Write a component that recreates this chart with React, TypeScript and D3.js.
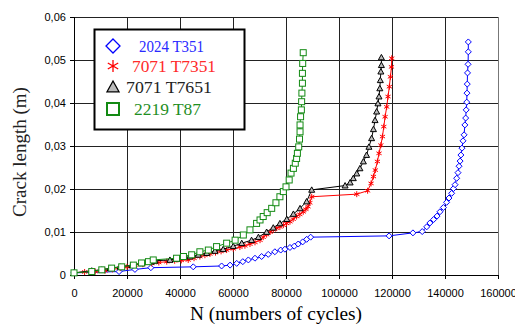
import React, { useEffect, useRef } from 'react';
import * as d3 from 'd3';

// 2024 T351
const blueN = [0, 17000, 23000, 29000, 45000, 55700, 58900, 61400, 63700, 65800, 68300, 70800, 73300, 75800, 78000, 79600, 81500, 83100, 84600, 86300, 87800, 89300, 118900, 127900, 131400, 133100, 134300, 135700, 137000, 138100, 139400, 140600, 141500, 142500, 143200, 143800, 144400, 144900, 145300, 145700, 146000, 146400, 146800, 147200, 147500, 147800, 148000, 148200, 148300, 148400, 148500, 148700, 148800, 148800];
const blueA = [0.0005, 0.0008, 0.0013, 0.0017, 0.0019, 0.0021, 0.0023, 0.0027, 0.0031, 0.0035, 0.0039, 0.0043, 0.0048, 0.0054, 0.0058, 0.0060, 0.0064, 0.0067, 0.0072, 0.0077, 0.0083, 0.0088, 0.0091, 0.0098, 0.0101, 0.0112, 0.0121, 0.0129, 0.0137, 0.0147, 0.0157, 0.0169, 0.0179, 0.0190, 0.0201, 0.0210, 0.0225, 0.0238, 0.0253, 0.0265, 0.0279, 0.0295, 0.0312, 0.0326, 0.0349, 0.0365, 0.0384, 0.0402, 0.0423, 0.0444, 0.0470, 0.0490, 0.0519, 0.0542];

// 7071 T7351
const redN = [0, 4000, 8000, 11700, 14500, 17400, 20000, 23000, 26000, 29300, 32000, 35000, 38000, 40500, 43100, 45300, 47500, 49400, 51300, 53400, 55500, 57600, 60100, 62600, 64500, 66400, 68300, 70200, 71400, 72700, 74000, 75200, 76500, 77700, 79000, 80200, 81500, 82700, 84000, 85200, 86500, 87500, 88300, 89000, 89700, 106700, 110800, 112100, 113000, 113700, 114500, 115100, 115800, 116400, 116900, 117400, 118000, 118500, 119000, 119400, 119800, 119900];
const redA = [0.0005, 0.0007, 0.0008, 0.0010, 0.0013, 0.0016, 0.0019, 0.0023, 0.0025, 0.0027, 0.0029, 0.0031, 0.0033, 0.0034, 0.0035, 0.0039, 0.0043, 0.0046, 0.0049, 0.0052, 0.0055, 0.0058, 0.0061, 0.0065, 0.0068, 0.0072, 0.0076, 0.0081, 0.0088, 0.0094, 0.0100, 0.0105, 0.0109, 0.0112, 0.0116, 0.0120, 0.0124, 0.0130, 0.0136, 0.0141, 0.0147, 0.0153, 0.0159, 0.0168, 0.0182, 0.0188, 0.0196, 0.0213, 0.0229, 0.0244, 0.0264, 0.0283, 0.0302, 0.0322, 0.0345, 0.0368, 0.0391, 0.0415, 0.0438, 0.0461, 0.0484, 0.0504];

// 7071 T7651
const blackN = [0, 6700, 10500, 13600, 17400, 21800, 25500, 29300, 30600, 36200, 38700, 43800, 46900, 50100, 53200, 56300, 60100, 63300, 67000, 69600, 72700, 75200, 77700, 80300, 82800, 85300, 87800, 89700, 102300, 104200, 105400, 106700, 107900, 109200, 110400, 111300, 112300, 113000, 113600, 114200, 114700, 115100, 115400, 115600, 115800, 116000, 116000];
const blackA = [0.0005, 0.0010, 0.0012, 0.0016, 0.0019, 0.0023, 0.0027, 0.0031, 0.0033, 0.0035, 0.0037, 0.0043, 0.0047, 0.0051, 0.0056, 0.0060, 0.0067, 0.0074, 0.0081, 0.0088, 0.0100, 0.0110, 0.0120, 0.0130, 0.0142, 0.0155, 0.0171, 0.0198, 0.0208, 0.0215, 0.0225, 0.0236, 0.0248, 0.0264, 0.0279, 0.0298, 0.0318, 0.0339, 0.0360, 0.0380, 0.0399, 0.0415, 0.0434, 0.0453, 0.0473, 0.0488, 0.0506];

// 2219 T87
const greenN = [0, 6700, 10500, 14200, 18000, 22400, 25500, 28100, 29900, 38700, 41300, 44400, 47500, 50700, 53800, 57600, 60800, 63900, 66400, 68900, 70200, 71400, 72900, 74600, 76200, 77700, 79000, 80000, 81200, 81900, 82800, 83500, 84000, 84300, 84800, 85100, 85300, 85300, 85500, 85800, 85900, 86000, 86200, 86200, 86300, 86500];
const greenA = [0.0005, 0.0008, 0.0012, 0.0016, 0.0019, 0.0023, 0.0028, 0.0031, 0.0035, 0.0039, 0.0043, 0.0047, 0.0054, 0.0058, 0.0066, 0.0074, 0.0081, 0.0093, 0.0105, 0.0120, 0.0128, 0.0136, 0.0145, 0.0155, 0.0168, 0.0182, 0.0194, 0.0205, 0.0221, 0.0237, 0.0248, 0.0260, 0.0271, 0.0283, 0.0298, 0.0316, 0.0333, 0.0349, 0.0368, 0.0384, 0.0403, 0.0423, 0.0446, 0.0469, 0.0492, 0.0517];

const seriesNames = ['2024 T351', '7071 T7351', '7071 T7651', '2219 T87'];
const xTicks = [0, 20000, 40000, 60000, 80000, 100000, 120000, 140000, 160000];
const yTicks = [0, 0.01, 0.02, 0.03, 0.04, 0.05, 0.06];

type Shape = 'diamond' | 'star' | 'triangle' | 'square';

function drawMarker(g: any, shape: Shape, color: string, s: number, w = 1) {
  if (shape === 'diamond') {
    g.append('path').attr('d', `M0,${-s}L${s},0L0,${s}L${-s},0Z`)
      .attr('fill', 'white').attr('stroke', color).attr('stroke-width', w);
  } else if (shape === 'square') {
    g.append('rect').attr('x', -s).attr('y', -s).attr('width', 2 * s).attr('height', 2 * s)
      .attr('fill', 'white').attr('stroke', color).attr('stroke-width', w);
  } else if (shape === 'triangle') {
    g.append('path').attr('d', `M0,${-s}L${s},${s * 0.8}L${-s},${s * 0.8}Z`)
      .attr('fill', '#bbb').attr('stroke', color).attr('stroke-width', w);
  } else {
    const c = s * Math.cos(Math.PI / 6), h = s * 0.5;
    g.append('path').attr('d', `M0,${-s}L0,${s}M${-c},${-h}L${c},${h}M${-c},${h}L${c},${-h}`)
      .attr('stroke', color).attr('stroke-width', w).attr('fill', 'none');
  }
}

export default function App() {
  const svgRef = useRef<SVGSVGElement>(null);

  useEffect(() => {
    const svg = d3.select(svgRef.current);
    svg.selectAll('*').remove();

    const x = d3.scaleLinear().domain([0, 160000]).range([74, 498]);
    const y = d3.scaleLinear().domain([0, 0.06]).range([275, 17]);
    const fmtY = (d: number) => (d === 0 ? '0' : d.toFixed(2).replace('.', ','));

    svg.append('rect').attr('width', 515).attr('height', 336).attr('fill', 'white');

    // grid
    svg.append('g').selectAll('line').data(yTicks.slice(1)).enter().append('line')
      .attr('x1', 74).attr('x2', 498).attr('y1', d => y(d)).attr('y2', d => y(d))
      .attr('stroke', '#222').attr('stroke-width', 1).attr('shape-rendering', 'crispEdges');
    svg.append('g').selectAll('line').data(xTicks.slice(1)).enter().append('line')
      .attr('y1', 17).attr('y2', 275).attr('x1', d => x(d)).attr('x2', d => x(d))
      .attr('stroke', d => (d === 160000 ? '#777' : '#222')).attr('stroke-width', 1)
      .attr('shape-rendering', 'crispEdges');

    const xAxis = svg.append('g').attr('transform', 'translate(0,275)')
      .call(d3.axisBottom(x).tickValues(xTicks).tickSize(4).tickFormat(d3.format('d') as any));
    const yAxis = svg.append('g').attr('transform', 'translate(74,0)')
      .call(d3.axisLeft(y).tickValues(yTicks).tickSize(4).tickFormat(fmtY as any));
    [xAxis, yAxis].forEach(a => {
      a.select('.domain').attr('stroke', '#000').attr('shape-rendering', 'crispEdges');
      a.selectAll('.tick line').attr('stroke', '#000').attr('shape-rendering', 'crispEdges');
      a.selectAll('text').attr('font-family', 'Liberation Sans, Arial, sans-serif')
        .attr('font-size', 11).attr('fill', '#000');
    });
    xAxis.selectAll('text').attr('dy', '1.35em');
    yAxis.selectAll('text').attr('dx', '-0.1em');

    const series: { n: number[]; a: number[]; color: string; shape: Shape }[] = [
      { n: blueN, a: blueA, color: '#0000ff', shape: 'diamond' },
      { n: redN, a: redA, color: '#ff0000', shape: 'star' },
      { n: blackN, a: blackA, color: '#000000', shape: 'triangle' },
      { n: greenN, a: greenA, color: '#138a13', shape: 'square' },
    ];

    const line = d3.line<[number, number]>().x(d => x(d[0])).y(d => y(d[1]));
    series.forEach(s => {
      const pts = s.n.map((v, i) => [v, s.a[i]] as [number, number]);
      svg.append('path').datum(pts).attr('d', line).attr('fill', 'none')
        .attr('stroke', s.color).attr('stroke-width', 1);
      pts.forEach(p => {
        const g = svg.append('g').attr('transform', `translate(${x(p[0])},${y(p[1])})`);
        drawMarker(g, s.shape, s.color, 3);
      });
    });

    // legend
    const lg = svg.append('g');
    lg.append('rect').attr('x', 94.5).attr('y', 29.5).attr('width', 150).attr('height', 100)
      .attr('fill', 'white').attr('stroke', '#000').attr('stroke-width', 2);
    const rows = [46, 66, 87, 109];
    const textX = [139, 132, 126, 134];
    const textW = [65, 84, 86, 67];
    const legendColors = ['#2a2aff', '#ff2a2a', '#222', '#1f8f1f'];
    series.forEach((s, i) => {
      const g = lg.append('g').attr('transform', `translate(113,${rows[i]})`);
      drawMarker(g, s.shape, s.color, s.shape === 'diamond' ? 7 : 6, s.shape === 'square' ? 2 : 1.3);
      lg.append('text').attr('x', textX[i]).attr('y', rows[i] + 6)
        .attr('font-family', 'Liberation Serif, Times New Roman, serif').attr('font-size', 17)
        .attr('textLength', textW[i]).attr('lengthAdjust', 'spacingAndGlyphs')
        .attr('fill', legendColors[i]).text(seriesNames[i]);
    });

    svg.append('text').attr('transform', 'translate(26,152) rotate(-90)')
      .attr('text-anchor', 'middle').attr('font-family', 'Liberation Serif, serif')
      .attr('font-size', 19).attr('fill', '#222').text('Crack length (m)');
    svg.append('text').attr('x', 276).attr('y', 320).attr('text-anchor', 'middle')
      .attr('font-family', 'Liberation Serif, serif').attr('font-size', 19)
      .attr('textLength', 172).attr('lengthAdjust', 'spacingAndGlyphs')
      .attr('fill', '#000').text('N (numbers of cycles)');
  }, []);

  return (
    <svg ref={svgRef} width={515} height={336}
      style={{ position: 'absolute', left: 0, top: 0 }}></svg>
  );
}
